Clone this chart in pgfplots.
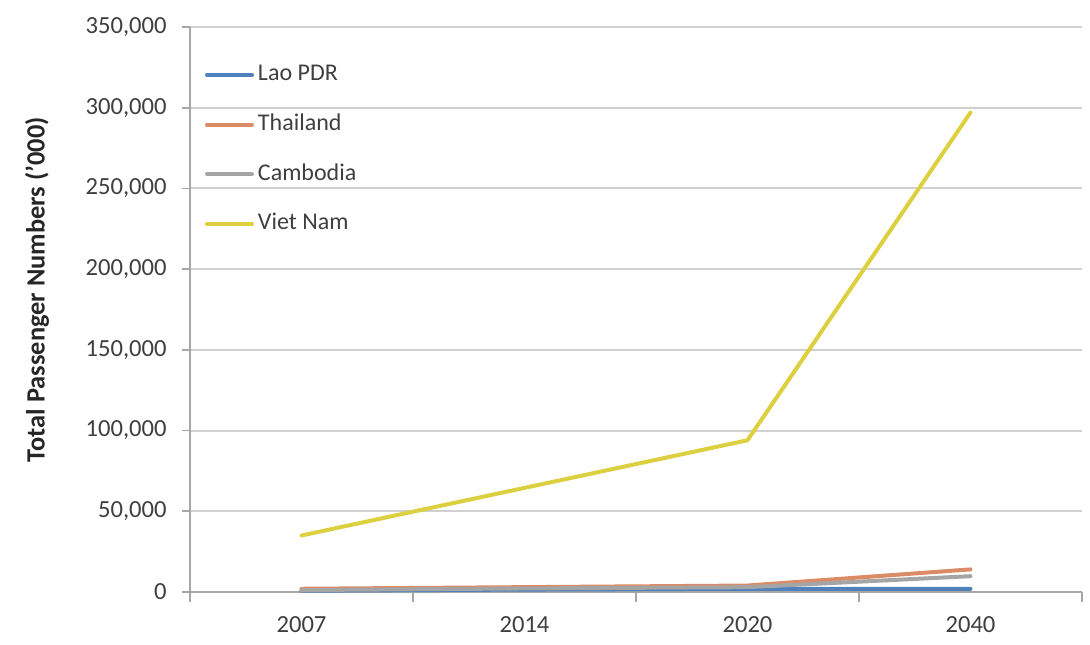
\documentclass[border=0pt]{standalone}
\usepackage{fontspec}
\setmainfont{Carlito}
\usepackage{pgfplots}
\pgfplotsset{compat=1.18}

\definecolor{laoblue}{HTML}{4F81BD}
\definecolor{thaiorange}{HTML}{DA8C66}
\definecolor{cambgray}{HTML}{A5A5A5}
\definecolor{vietyellow}{HTML}{DDD040}
\definecolor{gridgray}{HTML}{D0D0D0}
\definecolor{axisgray}{HTML}{A6A6A6}
\definecolor{labeltext}{HTML}{3F3F3F}

\begin{document}
\begin{tikzpicture}
\path[use as bounding box] (-95bp,-26.5bp) rectangle (450bp,296bp);
\begin{axis}[
  at={(0,0)}, anchor=south west,
  scale only axis,
  width=446bp, height=282.5bp,
  xmin=-0.5, xmax=3.5,
  ymin=0, ymax=350000,
  axis x line=bottom, axis y line=left,
  axis line style={-, axisgray, line width=0.8bp},
  xtick={0,1,2,3},
  xticklabels={2007,2014,2020,2040},
  major x tick style={draw=none},
  minor xtick={-0.5,0.5,1.5,2.5,3.5},
  minor x tick style={axisgray, line width=0.8bp},
  minor tick length=5bp,
  ytick={0,50000,100000,150000,200000,250000,300000,350000},
  major y tick style={axisgray, line width=0.8bp},
  major tick length=4bp,
  tick align=outside,
  scaled y ticks=false,
  /pgf/number format/.cd, fixed, precision=0, 1000 sep={,}, assume math mode=true,
  /pgfplots/.cd,
  ymajorgrids,
  major grid style={gridgray, line width=1bp},
  tick label style={font=\fontsize{12.3bp}{14bp}\selectfont, text=labeltext},
  yticklabel style={anchor=east, inner sep=0pt, xshift=-7.5bp},
  xticklabel style={anchor=north, inner sep=0pt, yshift=-8bp},
  ylabel={\textbf{Total Passenger Numbers ('000)}},
  ylabel style={font=\fontsize{13.2bp}{15bp}\selectfont, text=black!85,
    at={(rel axis cs:0,0.535)}, anchor=center, yshift=76.5bp},
  legend cell align=left,
  legend style={draw=none, fill=none, at={(rel axis cs:0.0168,0.9365)},
    anchor=north west, inner sep=0pt, outer sep=0pt,
    row sep=12.85bp, column sep=2bp,
    font=\fontsize{12bp}{14bp}\selectfont, text=labeltext,
    nodes={inner sep=0pt, text height=9bp, text depth=3bp}},
  legend image code/.code={\draw[#1] (0bp,0bp) -- (22.5bp,0bp);},
  every axis plot/.append style={line width=2bp, line join=round, line cap=round},
  clip=false,
]
\addplot[laoblue] coordinates {(0,800) (1,1500) (2,2000) (3,1900)};
\addlegendentry{Lao PDR}
\addplot[thaiorange] coordinates {(0,2000) (1,3000) (2,4000) (3,14000)};
\addlegendentry{Thailand}
\addplot[cambgray] coordinates {(0,1200) (1,2200) (2,3000) (3,9800)};
\addlegendentry{Cambodia}
\addplot[vietyellow] coordinates {(0,35000) (1,64500) (2,94000) (3,297000)};
\addlegendentry{Viet Nam}
\end{axis}
\end{tikzpicture}
\end{document}
